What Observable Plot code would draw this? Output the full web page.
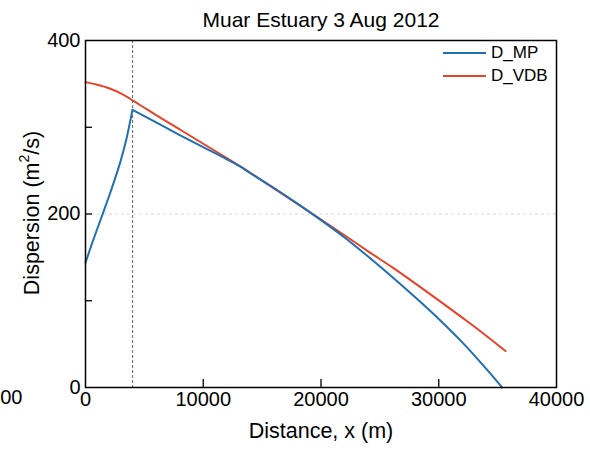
<!DOCTYPE html>
<html>
<head>
<meta charset="utf-8">
<script src="https://cdn.jsdelivr.net/npm/d3@7"></script>
<script src="https://cdn.jsdelivr.net/npm/@observablehq/plot@0.6"></script>
<style>
  html, body { margin: 0; padding: 0; background: #fff; }
  #wrap { position: relative; width: 590px; height: 451px; font-family: "Liberation Sans", Arial, sans-serif; }
  #legend { position: absolute; left: 443px; top: 42px; font-size: 17px; color: #000; }
  .row { display: flex; align-items: center; height: 22.5px; }
  .sw { width: 43px; height: 0; border-top: 2px solid; margin-right: 5px; }
</style>
</head>
<body>
<div id="wrap"><div id="legend"></div></div>
<script>
const seriesNames = ["D_MP", "D_VDB"];
const seriesColors = ["#1f6fb4", "#e8422a"];

const mpX = [0, 500, 1000, 1500, 2000, 2500, 3000, 3500, 3990, 6000, 8000, 10000, 12000, 13160, 14000, 16000, 18000, 20000, 22000, 24000, 26000, 28000, 30000, 32000, 34000, 35390];
const mpY = [144, 164, 183, 201.5, 220.5, 240.5, 262, 288, 320, 305.5, 291, 277, 263, 254.5, 247, 230, 212, 193, 173, 151, 128, 104, 79, 52, 22, 0];
const mpPeakX = 3990;

const vdbX = [0, 1000, 2000, 3000, 4000, 5000, 6000, 8000, 10000, 12000, 14000, 16000, 18000, 20000, 22000, 24000, 26000, 28000, 30000, 32000, 34000, 35670];
const vdbY = [352, 349, 345, 339, 331, 322.5, 314, 297.5, 281, 264.5, 247.5, 229.5, 211.5, 193.5, 175.5, 157, 139, 120, 100.5, 80.5, 60, 42];

const xTicks = [0, 10000, 20000, 30000, 40000];
const xInnerTicks = [10000, 20000, 30000];
const yLabelTicks = [0, 200, 400];
const yInnerTicks = [100, 200, 300];
const yGrid = [200];
const xMarker = [4000];

// split MP into rising and falling branches at the peak (shared point)
const mp = [];
mpX.forEach((x, i) => {
  if (x <= mpPeakX) mp.push({x, y: mpY[i], seg: "rise"});
  if (x >= mpPeakX) mp.push({x, y: mpY[i], seg: "fall"});
});
const vdb = vdbX.map((x, i) => ({x, y: vdbY[i]}));

const chart = Plot.plot({
  width: 590,
  height: 451,
  marginLeft: 85,
  marginRight: 34,
  marginTop: 40,
  marginBottom: 64,
  style: {fontFamily: "Liberation Sans, Arial, sans-serif", fontSize: "20px", color: "#000", background: "#fff", overflow: "visible"},
  x: {domain: [0, 40000]},
  y: {domain: [0, 400]},
  marks: [
    Plot.ruleY(yGrid, {y: d => d, stroke: "#d8d8d8", strokeDasharray: "3,3", strokeWidth: 1}),
    Plot.ruleX(xMarker, {x: d => d, stroke: "#666", strokeDasharray: "3,2", strokeWidth: 1}),
    Plot.line(vdb, {x: "x", y: "y", stroke: seriesColors[1], strokeWidth: 2, curve: "monotone-x"}),
    Plot.line(mp, {x: "x", y: "y", z: "seg", stroke: seriesColors[0], strokeWidth: 2, curve: "monotone-x"}),
    Plot.ruleX(xInnerTicks, {x: d => d, insetTop: 339, stroke: "#000", strokeWidth: 1.3}),
    Plot.ruleY(yInnerTicks, {y: d => d, insetRight: 464, stroke: "#000", strokeWidth: 1.3}),
    Plot.frame({stroke: "#000", strokeWidth: 1.5}),
    Plot.axisX({ticks: xTicks, tickSize: 0, tickPadding: 4, label: null, tickFormat: d => String(d)}),
    Plot.axisY({ticks: yLabelTicks, tickSize: 0, tickPadding: 5, label: null}),
    Plot.text(["00"], {frameAnchor: "bottom-left", text: d => d, dx: -63, dy: 16, textAnchor: "end", fontSize: 20}),
    Plot.text(["Distance, x (m)"], {frameAnchor: "bottom", text: d => d, dy: 50, fontSize: 21.5}),
    Plot.text(["Muar Estuary 3 Aug 2012"], {frameAnchor: "top", text: d => d, dy: -28, fontSize: 21})
  ]
});
document.getElementById("wrap").appendChild(chart);

const svg = d3.select(chart);
// enforce tick label size
svg.selectAll("g[aria-label*='tick label']")
  .attr("font-size", 20).style("font-size", "20px");

// Y axis label with superscript
const yl = svg.append("text")
  .attr("transform", "translate(33,213) rotate(-90)")
  .attr("text-anchor", "middle")
  .attr("dominant-baseline", "middle")
  .attr("font-size", 21.5)
  .attr("fill", "#000");
yl.append("tspan").text("Dispersion (m");
yl.append("tspan").attr("font-size", 14).attr("dy", -8).text("2");
yl.append("tspan").attr("dy", 8).text("/s)");

const leg = d3.select("#legend");
seriesNames.forEach((n, i) => {
  const r = leg.append("div").attr("class", "row");
  r.append("div").attr("class", "sw").style("border-color", seriesColors[i]);
  r.append("span").text(n);
});
</script>
</body>
</html>
